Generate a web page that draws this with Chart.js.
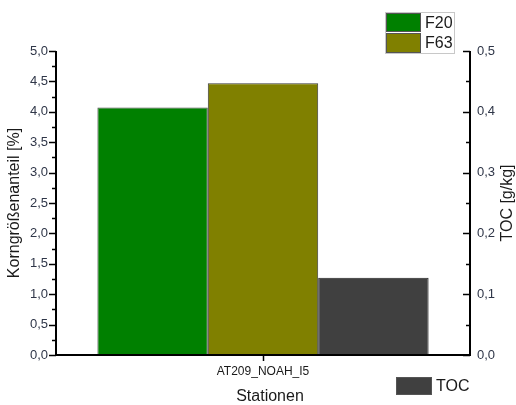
<!DOCTYPE html>
<html>
<head>
<meta charset="utf-8">
<script src="https://cdn.jsdelivr.net/npm/chart.js@4"></script>
<style>
  html, body { margin: 0; padding: 0; background: #fff; }
  #wrap { width: 516px; height: 405px; position: relative; }
</style>
</head>
<body>
<div id="wrap"><canvas id="c" width="516" height="405"></canvas></div>
<script>
// Station and measured values
const categories = ['AT209_NOAH_I5'];
const f20Values = [4.07];   // Korngrößenanteil [%]
const f63Values = [4.47];   // Korngrößenanteil [%]
const tocValues = [0.127];  // TOC [g/kg]

const seriesNames = ['F20', 'F63', 'TOC'];
const seriesColors = ['#008000', '#808000', '#404040'];

const FONT = "Arial, 'Liberation Sans', sans-serif";
const TICK_COLOR = '#2f3648';
const TEXT_COLOR = '#1a1a1a';

const fmt = v => Number(v).toFixed(1).replace('.', ',');

// Axis lines, major/minor tick marks, titles and the two legend boxes
const decorations = {
  id: 'decorations',
  afterDraw(chart) {
    const ctx = chart.ctx;
    const yL = chart.scales.y;
    const yR = chart.scales.y2;
    const x = chart.scales.x;
    const area = chart.chartArea;
    ctx.save();
    ctx.strokeStyle = '#000';
    ctx.lineCap = 'butt';

    // axis lines
    ctx.lineWidth = 2;
    ctx.beginPath();
    ctx.moveTo(area.left, area.top);
    ctx.lineTo(area.left, area.bottom + 1);
    ctx.moveTo(area.right, area.top);
    ctx.lineTo(area.right, area.bottom + 1);
    ctx.moveTo(area.left - 1, area.bottom);
    ctx.lineTo(area.right + 1, area.bottom);
    ctx.stroke();

    // left axis ticks (outward)
    ctx.lineWidth = 1.5;
    ctx.beginPath();
    for (let v = 0; v <= 5.0001; v += 0.25) {
      const major = Math.abs(v / 0.5 - Math.round(v / 0.5)) < 1e-6;
      const py = Math.round(yL.getPixelForValue(v)) + 0.5;
      ctx.moveTo(area.left, py);
      ctx.lineTo(area.left - (major ? 7 : 4), py);
    }
    // right axis ticks (inward)
    for (let v = 0; v <= 0.50001; v += 0.05) {
      const major = Math.abs(v / 0.1 - Math.round(v / 0.1)) < 1e-6;
      const py = Math.round(yR.getPixelForValue(v)) + 0.5;
      ctx.moveTo(area.right, py);
      ctx.lineTo(area.right - (major ? 7 : 4), py);
    }
    // category tick
    categories.forEach((c, i) => {
      const px = Math.round(x.getPixelForValue(i)) + 0.5;
      ctx.moveTo(px, area.bottom);
      ctx.lineTo(px, area.bottom + 6);
    });
    ctx.stroke();

    // axis titles
    ctx.fillStyle = TEXT_COLOR;
    ctx.font = '16px ' + FONT;
    ctx.textAlign = 'center';
    ctx.textBaseline = 'middle';
    const midY = (area.top + area.bottom) / 2;
    ctx.save();
    ctx.translate(15, midY);
    ctx.rotate(-Math.PI / 2);
    ctx.fillText('Korngrößenanteil [%]', 0, 0);
    ctx.restore();
    ctx.save();
    ctx.translate(508, midY);
    ctx.rotate(-Math.PI / 2);
    ctx.fillText('TOC [g/kg]', 0, 0);
    ctx.restore();
    ctx.fillText('Stationen', (area.left + area.right) / 2 + 7, 397);

    // legend: F20 / F63 box
    const ds = chart.data.datasets;
    ctx.strokeStyle = '#c8c8c8';
    ctx.lineWidth = 1;
    ctx.strokeRect(385.5, 12.5, 69, 41);
    const drawEntry = (d, sx, sy, sw, sh) => {
      ctx.fillStyle = d.backgroundColor;
      ctx.fillRect(sx, sy, sw, sh);
      ctx.strokeStyle = '#555';
      ctx.strokeRect(sx + 0.5, sy + 0.5, sw - 1, sh - 1);
      ctx.fillStyle = TEXT_COLOR;
      ctx.textAlign = 'left';
      ctx.textBaseline = 'middle';
      ctx.font = '16px ' + FONT;
      ctx.fillText(d.label, sx + sw + 4, sy + sh / 2 + 1);
    };
    drawEntry(ds[0], 386, 13, 35, 19);
    drawEntry(ds[1], 386, 33, 35, 20);
    // legend: TOC
    drawEntry(ds[2], 396, 377, 36, 18);
    ctx.restore();
  }
};

new Chart(document.getElementById('c'), {
  type: 'bar',
  data: {
    labels: categories,
    datasets: [
      { label: seriesNames[0], data: f20Values, yAxisID: 'y', backgroundColor: seriesColors[0], borderColor: '#4a4a4a', borderWidth: 1 },
      { label: seriesNames[1], data: f63Values, yAxisID: 'y', backgroundColor: seriesColors[1], borderColor: '#3a3a3a', borderWidth: 1 },
      { label: seriesNames[2], data: tocValues, yAxisID: 'y2', backgroundColor: seriesColors[2], borderColor: '#222', borderWidth: 1 }
    ]
  },
  options: {
    responsive: false,
    animation: false,
    events: [],
    layout: { padding: { top: 51, left: 0, right: 0, bottom: 0 } },
    datasets: { bar: { categoryPercentage: 0.8, barPercentage: 1.0 } },
    plugins: { legend: { display: false }, tooltip: { enabled: false }, title: { display: false } },
    scales: {
      x: {
        position: 'bottom',
        grid: { display: false, drawTicks: false },
        border: { display: false },
        ticks: { color: TEXT_COLOR, font: { family: FONT, size: 12 }, padding: 9, maxRotation: 0 },
        afterFit(s) { s.height = 50; }
      },
      y: {
        position: 'left',
        min: 0, max: 5,
        grid: { display: false, drawTicks: false },
        border: { display: false },
        ticks: { stepSize: 0.5, color: TICK_COLOR, font: { family: FONT, size: 13 }, padding: 8, callback: fmt },
        afterFit(s) { s.width = 56; }
      },
      y2: {
        position: 'right',
        min: 0, max: 0.5,
        grid: { display: false, drawTicks: false },
        border: { display: false },
        ticks: { stepSize: 0.1, color: TICK_COLOR, font: { family: FONT, size: 13 }, padding: 7, callback: fmt },
        afterFit(s) { s.width = 46; }
      }
    }
  },
  plugins: [decorations]
});
</script>
</body>
</html>
